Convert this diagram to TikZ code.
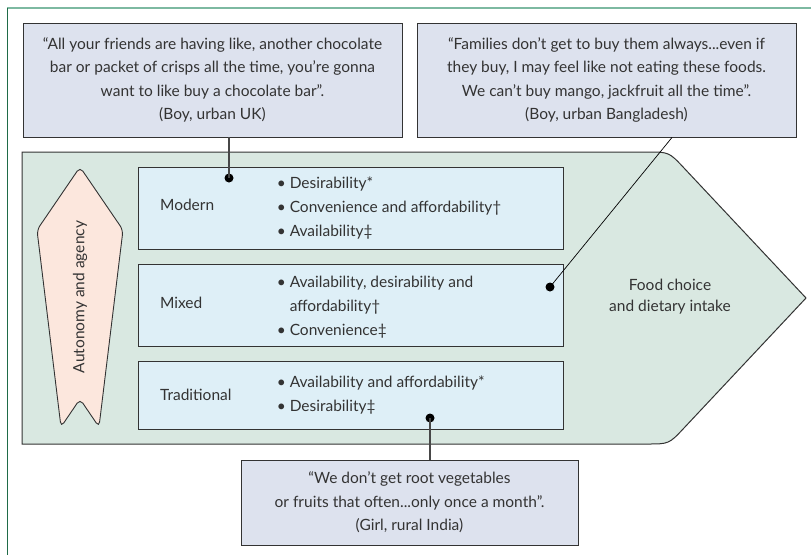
\documentclass[tikz,border=0pt]{standalone}
\usepackage{fontspec}
\setmainfont{Lato}
\usetikzlibrary{positioning}

\definecolor{quotebg}{HTML}{DDE2EE}
\definecolor{rowbg}{HTML}{DEEFF7}
\definecolor{arrowbg}{HTML}{D9E8E1}
\definecolor{agencybg}{HTML}{FCE7DD}
\definecolor{ink}{HTML}{333333}
\definecolor{frametop}{HTML}{7DB9A1}
\definecolor{frameleft}{HTML}{1F6B47}

\begin{document}
\begin{tikzpicture}[x=1pt, y=-1pt,
        quote/.style={draw=ink, fill=quotebg, line width=0.9pt, inner sep=0pt, align=center, text=ink, font=\fontsize{15.5}{23.5}\selectfont},
        row/.style={draw=ink, fill=rowbg, line width=0.9pt, minimum width=425pt, inner sep=0pt},
        rowlabel/.style={text=ink, font=\fontsize{15.5}{16}\selectfont},
        bullets/.style={text=ink, align=left, inner sep=0pt, font=\fontsize{15.5}{24}\selectfont},
        dot/.style={circle, fill=black, inner sep=0pt, minimum size=9pt},
        link/.style={draw=ink!90, line width=1.5pt},
        thinlink/.style={draw=black, line width=0.7pt}
    ]
    \useasboundingbox (0,0) rectangle (811,555);

    % frame
    \draw[frametop, line width=2pt] (7,8) -- (811,8);
    \draw[frameleft, line width=1pt] (7,8) -- (7,555);

    % Food choice arrow
    \draw[fill=arrowbg, draw=ink, line width=1pt] (22,152) -- (647,152) .. controls (669,152) .. (684,168) -- (806,298) -- (684,428) .. controls (669,444) .. (647,444) -- (22,444) -- cycle;
    \node[text=ink, align=center, font=\fontsize{15.5}{21}\selectfont] (food) at (670,297) {Food choice\\and dietary intake};

    % Autonomy and agency
    \draw[fill=agencybg, draw=ink, line width=0.9pt, rounded corners=5pt] (80,167) -- (123,230) -- (99,427) -- (80,399) -- (61,427) -- (37,230) -- cycle;
    \node[rotate=90, text=ink, font=\fontsize{15.5}{16}\selectfont] (agency) at (80,297) {Autonomy and agency};

    % Food environments
    \node[row, minimum height=82pt] (modern) at (350.5,208) {};
    \node[rowlabel, right=19pt of modern.west, yshift=3pt] (lmodern) {Modern};
    \node[bullets, right=152pt of modern.west] (bmodern) {\llap{\textbullet\ }Desirability*\\\llap{\textbullet\ }Convenience and affordability†\\\llap{\textbullet\ }Availability‡};

    \node[row, minimum height=82pt] (mixed) at (350.5,305) {};
    \node[rowlabel, right=19pt of mixed.west, yshift=2pt] (lmixed) {Mixed};
    \node[bullets, right=152pt of mixed.west, yshift=-2pt] (bmixed) {\llap{\textbullet\ }Availability, desirability and\\affordability†\\\llap{\textbullet\ }Convenience‡};

    \node[row, minimum height=68pt] (trad) at (350.5,395) {};
    \node[rowlabel, right=19pt of trad.west] (ltrad) {Traditional};
    \node[bullets, right=152pt of trad.west] (btrad) {\llap{\textbullet\ }Availability and affordability*\\\llap{\textbullet\ }Desirability‡};

    % Quotes
    \node[quote, minimum width=379pt, minimum height=114pt] (quk) at (212.5,80) {“All your friends are having like, another chocolate\\bar or packet of crisps all the time, you’re gonna\\want to like buy a chocolate bar”.\\(Boy, urban UK)};
    \node[quote, minimum width=379pt, minimum height=114pt] (qbd) at (606.5,80) {“Families don’t get to buy them always...even if\\they buy, I may feel like not eating these foods.\\We can’t buy mango, jackfruit all the time”.\\(Boy, urban Bangladesh)};
    \node[quote, minimum width=337pt, minimum height=85pt] (qin) at (409.5,502.5) {“We don't get root vegetables\\or fruits that often...only once a month”.\\(Girl, rural India)};

    \node[dot] (dmodern) at (229,178) {};
    \node[dot] (dmixed) at (550,287) {};
    \node[dot] (dtrad) at (430,418) {};

    \draw[link] (dmodern |- quk.south) -- (dmodern.center);
    \draw[thinlink] ([xshift=65.5pt]qbd.south) -- (dmixed.center);
    \draw[link] (dtrad |- qin.north) -- (dtrad.center);

\end{tikzpicture}
\end{document}
